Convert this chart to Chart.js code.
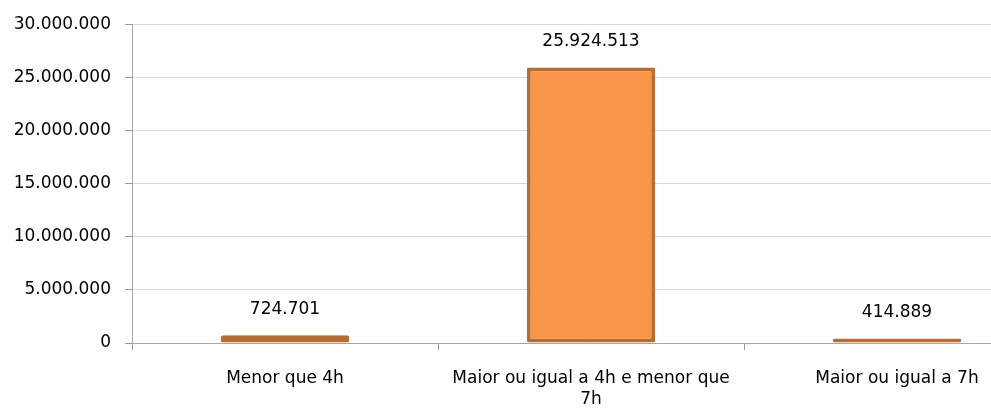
<!DOCTYPE html>
<html>
<head>
<meta charset="utf-8">
<script src="https://cdn.jsdelivr.net/npm/chart.js@4/dist/chart.umd.min.js"></script>
<style>
  html, body { margin: 0; padding: 0; background: #fff; overflow: hidden; }
  #wrap { width: 1060px; height: 412px; }
</style>
</head>
<body>
<div id="wrap"><canvas id="chart"></canvas></div>
<script>
// Data
const categories = ['Menor que 4h', ['Maior ou igual a 4h e menor que', '7h'], 'Maior ou igual a 7h'];
const values = [724701, 25924513, 414889];
const yTicks = [0, 5000000, 10000000, 15000000, 20000000, 25000000, 30000000];

const FONT = "'DejaVu Sans', sans-serif";

// 1234567 -> 1.234.567
function fmt(n) {
  return String(Math.round(n)).replace(/\B(?=(\d{3})+(?!\d))/g, '.');
}

// Draw the value above each bar
const valueLabels = {
  id: 'valueLabels',
  afterDatasetsDraw(chart) {
    const ctx = chart.ctx;
    const meta = chart.getDatasetMeta(0);
    ctx.save();
    ctx.font = '17px ' + FONT;
    ctx.fillStyle = '#000';
    ctx.textAlign = 'center';
    ctx.textBaseline = 'middle';
    meta.data.forEach((bar, i) => {
      ctx.fillText(fmt(values[i]), bar.x, bar.y - 26);
    });
    ctx.restore();
  }
};

new Chart(document.getElementById('chart'), {
  type: 'bar',
  data: {
    labels: categories,
    datasets: [{
      data: values,
      backgroundColor: '#F79646',
      borderColor: '#B56D34',
      borderWidth: 4,
      borderRadius: 2,
      borderSkipped: false,
      barPercentage: 0.42,
      categoryPercentage: 1
    }]
  },
  options: {
    responsive: true,
    maintainAspectRatio: false,
    animation: false,
    layout: { padding: { top: 17, right: 10, left: 0, bottom: 0 } },
    plugins: { legend: { display: false }, tooltip: { enabled: false } },
    scales: {
      x: {
        grid: { drawOnChartArea: false, drawTicks: true, tickLength: 7, tickColor: '#999', offset: true },
        border: { color: '#a6a6a6', width: 1 },
        ticks: { color: '#000', font: { family: FONT, size: 17, lineHeight: 1.25 }, padding: 18, maxRotation: 0, autoSkip: false },
        afterFit(scale) { scale.height = 69; }
      },
      y: {
        min: 0,
        max: 30000000,
        afterBuildTicks(scale) { scale.ticks = yTicks.map(v => ({ value: v })); },
        grid: { color: '#d9d9d9', tickColor: '#999', tickLength: 7 },
        border: { color: '#a6a6a6', width: 1 },
        ticks: { color: '#000', font: { family: FONT, size: 17 }, padding: 14, callback: v => fmt(v) },
        afterFit(scale) { scale.width = 132; }
      }
    }
  },
  plugins: [valueLabels]
});
</script>
</body>
</html>
